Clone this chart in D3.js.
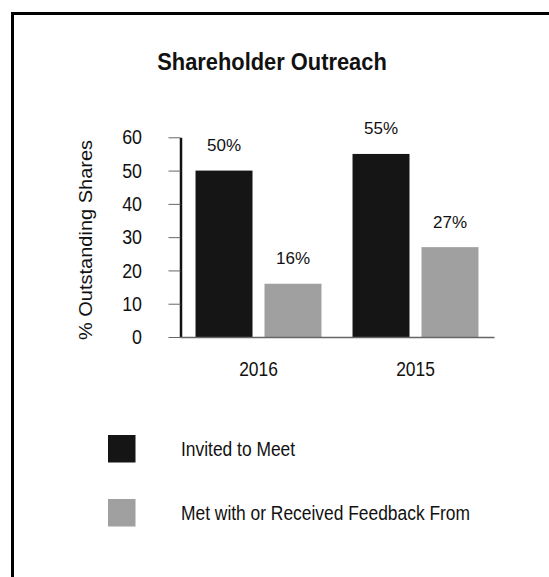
<!DOCTYPE html>
<html>
<head>
<meta charset="utf-8">
<script src="https://cdn.jsdelivr.net/npm/d3@7"></script>
<style>
  body { margin: 0; background: #fff; }
  svg text { font-family: "Liberation Sans", Arial, sans-serif; fill: #111; }
</style>
</head>
<body>
<div id="chart"></div>
<script>
const years = ["2016", "2015"];
const seriesNames = ["Invited to Meet", "Met with or Received Feedback From"];
const invited = [50, 55];
const metWith = [16, 27];
const yTicks = [0, 10, 20, 30, 40, 50, 60];
const colors = ["#151515", "#a0a0a0"];

const width = 549;
const height = 577;
const squeeze = 0.87; // the source type is a condensed face

const svg = d3
  .select("#chart")
  .append("svg")
  .attr("width", width)
  .attr("height", height);

// frame: only top and left edges
svg.append("path")
  .attr("d", "M12.5,577 V13.5 H549")
  .attr("fill", "none")
  .attr("stroke", "#000")
  .attr("stroke-width", 3);

svg.append("text")
  .text("Shareholder Outreach")
  .attr("transform", "translate(272,70) scale(0.93,1)")
  .attr("text-anchor", "middle")
  .attr("font-weight", "bold")
  .attr("font-size", 23.5);

const scale_X = d3.scaleBand().domain(years).range([180, 494]);
const scale_S = d3
  .scaleBand()
  .domain([0, 1])
  .range([0, scale_X.bandwidth()])
  .paddingInner(0.174)
  .paddingOuter(0.225);
const scale_Y = d3.scaleLinear().domain([0, 60]).range([337, 137.3]);

const rows = years.map((y, i) => ({ year: y, values: [invited[i], metWith[i]] }));

// bars
const groups = svg
  .selectAll(".grp")
  .data(rows)
  .enter()
  .append("g")
  .attr("class", "grp")
  .attr("transform", (d) => "translate(" + scale_X(d.year) + ",0)");

groups
  .selectAll("rect")
  .data((d) => d.values)
  .enter()
  .append("rect")
  .attr("x", (d, i) => scale_S(i))
  .attr("width", scale_S.bandwidth())
  .attr("y", (d) => scale_Y(d))
  .attr("height", (d) => scale_Y(0) - scale_Y(d))
  .attr("fill", (d, i) => colors[i]);

groups
  .selectAll(".val")
  .data((d) => d.values)
  .enter()
  .append("text")
  .attr("class", "val")
  .text((d) => d + "%")
  .attr("x", (d, i) => scale_S(i) + scale_S.bandwidth() / 2)
  .attr("y", (d) => scale_Y(d) - 19.5)
  .attr("text-anchor", "middle")
  .attr("font-size", 17);

// y axis
const axis_Y = d3
  .axisLeft(scale_Y)
  .tickValues(yTicks)
  .tickSizeInner(12)
  .tickSizeOuter(0)
  .tickPadding(26);

const gy = svg.append("g").attr("transform", "translate(180.5,0)").call(axis_Y);
gy.attr("font-family", null).attr("font-size", null);
gy.select(".domain").attr("stroke", "#111").attr("stroke-width", 2.5);
gy.selectAll(".tick line").attr("stroke", "#666");
gy.selectAll(".tick text")
  .attr("x", -38.5 / squeeze)
  .attr("transform", "scale(" + squeeze + ",1)")
  .attr("font-size", 20.5)
  .attr("fill", "#111");

svg.append("text")
  .text("% Outstanding Shares")
  .attr("transform", "translate(91.5,240) rotate(-90) scale(1,0.95)")
  .attr("text-anchor", "middle")
  .attr("font-size", 20);

// x axis
const axis_X = d3.axisBottom(scale_X).tickSize(0).tickPadding(25);
const gx = svg.append("g").attr("transform", "translate(0,337)").call(axis_X);
gx.attr("font-family", null).attr("font-size", null);
gx.select(".domain").attr("stroke", "#666").attr("stroke-width", 1.5);
gx.selectAll(".tick text")
  .attr("transform", "scale(" + squeeze + ",1)")
  .attr("font-size", 20)
  .attr("fill", "#111");

// legend
const legend = svg.append("g").attr("id", "legend");
const items = legend
  .selectAll("g")
  .data(seriesNames)
  .enter()
  .append("g")
  .attr("transform", (d, i) => "translate(108," + (435 + i * 64) + ")");

items.append("rect")
  .attr("width", 27.5)
  .attr("height", 27.5)
  .attr("fill", (d, i) => colors[i]);

items.append("text")
  .text((d) => d)
  .attr("transform", "translate(73,21) scale(" + squeeze + ",1)")
  .attr("font-size", 20);
</script>
</body>
</html>
